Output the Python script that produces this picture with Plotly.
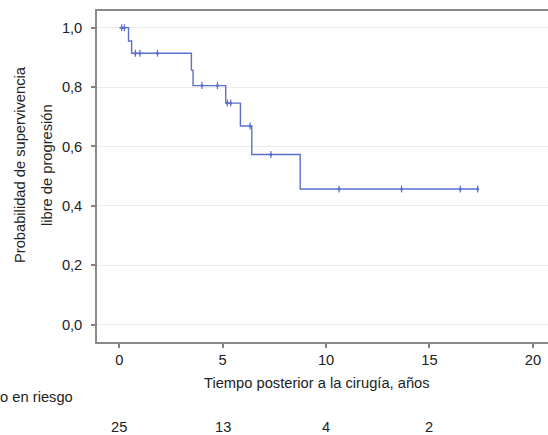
import plotly.graph_objects as go

# Kaplan-Meier steps
event_times = [0.0, 0.45, 0.60, 3.49, 3.57, 5.15, 5.86, 6.41, 8.75]
survival = [1.0, 0.955, 0.914, 0.857, 0.805, 0.746, 0.669, 0.573, 0.457]
end_time = 17.33
censor_times = [0.12, 0.25, 0.78, 1.0, 1.85, 4.0, 4.75, 5.23, 5.39, 6.33,
                7.33, 10.63, 13.65, 16.49, 17.33]

risk_times = [0, 5, 10, 15]
risk_counts = ["25", "13", "4", "2"]

x_ticks = [0, 5, 10, 15, 20]
y_ticks = [0.0, 0.2, 0.4, 0.6, 0.8, 1.0]

line_color = "#5b6fcf"

xs = list(event_times) + [end_time]
ys = list(survival) + [survival[-1]]


def surv_at(t):
    s = survival[0]
    for et, sv in zip(event_times, survival):
        if et <= t:
            s = sv
    return s


cy = [surv_at(t) for t in censor_times]

fig = go.Figure()
fig.add_trace(go.Scatter(x=xs, y=ys, mode="lines", line=dict(shape="hv", color=line_color, width=1.4),
                         hoverinfo="skip", showlegend=False))
fig.add_trace(go.Scatter(x=censor_times, y=cy, mode="markers",
                         marker=dict(symbol="line-ns", size=5, line=dict(color=line_color, width=1.2)),
                         showlegend=False))
fig.add_trace(go.Scatter(x=censor_times, y=cy, mode="markers",
                         marker=dict(symbol="circle", size=3, color=line_color),
                         showlegend=False))

font = dict(family="Liberation Sans, Arial, sans-serif", size=14.7, color="#222222")

fig.update_layout(
    width=548, height=435,
    margin=dict(l=97, r=0, t=11, b=93),
    paper_bgcolor="white", plot_bgcolor="white",
    separators=",.",
    font=font,
    xaxis=dict(range=[-1.074, 20.73], tickvals=x_ticks, ticks="outside", ticklen=4,
               tickcolor="#808080", tickwidth=1.5, showline=True, linecolor="#8a8a8a", linewidth=1.5,
               mirror=True, showgrid=False, zeroline=False, tickfont=font),
    yaxis=dict(range=[-0.058, 1.056], tickvals=y_ticks, tickformat=".1f", ticks="outside", ticklen=4,
               tickcolor="#808080", tickwidth=1.5, showline=True, linecolor="#8a8a8a", linewidth=1.5,
               mirror=False, showgrid=True, gridcolor="#ececec", gridwidth=1, zeroline=False, tickfont=font,
               ticklabelstandoff=6),
)

plot_w = 548 - 97
plot_h = 435 - 11 - 93


def px_x(p):
    return (p - 97) / plot_w


def px_y(p):
    return (435 - 93 - p) / plot_h


annotations = [
    dict(text="Tiempo posterior a la cirugía, años", x=px_x(317), y=px_y(383), xref="paper", yref="paper",
         showarrow=False, xanchor="center", yanchor="middle", font=font),
    dict(text="Probabilidad de supervivencia", x=px_x(20), y=px_y(165),
         xref="paper", yref="paper", showarrow=False, textangle=-90, xanchor="center", yanchor="middle",
         font=font),
    dict(text="libre de progresión", x=px_x(47), y=px_y(165),
         xref="paper", yref="paper", showarrow=False, textangle=-90, xanchor="center", yanchor="middle",
         font=font),
    dict(text="Número en riesgo", x=px_x(75), y=px_y(397), xref="paper", yref="paper",
         showarrow=False, xanchor="right", yanchor="middle", font=font),
]
for t, c in zip(risk_times, risk_counts):
    annotations.append(dict(text=c, x=t, y=px_y(427), xref="x", yref="paper", showarrow=False,
                            xanchor="center", yanchor="middle", font=font))
fig.update_layout(annotations=annotations)

fig.write_html("out.html", config={"displayModeBar": False},
               post_script="document.body.style.margin='0';document.body.style.overflow='hidden';")
